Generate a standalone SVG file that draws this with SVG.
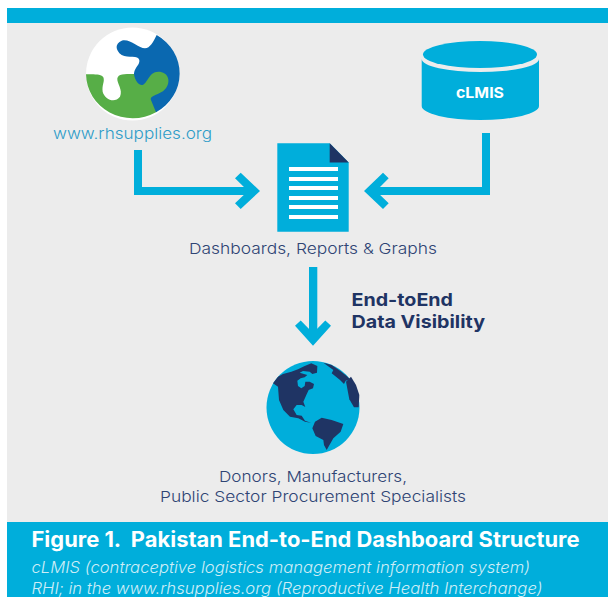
<svg xmlns="http://www.w3.org/2000/svg" width="608" height="597" viewBox="0 0 608 597">
<style>
.cy{fill:#00AEDB}
.nv{fill:#1F3464}
.t{font-family:"Inter","Lato","Liberation Sans",sans-serif;font-weight:300;font-size:15px;fill:#2F4474}
.b{font-family:"Inter","Lato","Liberation Sans",sans-serif;font-weight:700;font-size:18px;fill:#1F3464}
.i{font-family:"Inter","Lato","Liberation Sans",sans-serif;font-weight:300;font-style:italic;font-size:16px;fill:#CDEDF7}
</style>
<rect width="608" height="597" fill="#fff"/>
<rect x="7" y="23" width="601" height="499" fill="#ECECEC"/>
<rect class="cy" x="7" y="8" width="601" height="15"/>
<g id="connectors" class="cy">
<path d="M134,150H142V187H250V195H134Z"/>
<polygon points="235,178.300 240.700,172.700 260,191 240.700,209 235,203.300 248,191"/>
<path d="M490,133H482V187H374V195H490Z"/>
<polygon points="388.700,178.300 383,172.700 364,191 383,209 388.700,203.300 376,191"/>
<path d="M309,267H317.300V336H309Z"/>
<polygon points="295,325.700 300.700,320.500 313,333 325.300,320.500 331,325.700 313,345.700"/>
</g>
<g id="node-rhsupplies">
<circle cx="132.500" cy="74" r="46.500" fill="#fff"/>
<g transform="translate(60,0) scale(.33333)">
<path fill="#57AE47" d="M78,223C100,222 125,222 130,232C135,245 125,255 128,275C135,300 165,310 180,290C190,270 170,250 172,235C175,222 190,222 222,222L240,205L335,205L335,290L288,337A140,134 0 0 1 78,223Z"/>
<path fill="#0A68B0" d="M290,105A140,134 0 0 1 288,337L272,298C272,285 300,285 315,268C335,245 325,215 295,215C265,215 262,255 245,255C230,255 222,230 222,220C225,200 240,195 238,180C235,165 205,175 185,165C165,150 165,130 185,122C210,115 235,145 255,145C270,145 280,125 290,105Z"/>
</g>
<text class="t" x="53" y="139" textLength="159" lengthAdjust="spacingAndGlyphs" style="fill:#2E9CC8">www.rhsupplies.org</text>
</g>
<g id="node-clmis">
<ellipse class="cy" cx="480" cy="54.500" rx="57" ry="13.500"/>
<path class="cy" d="M421.700,59A58.500,13 0 0 0 539,59V106A58.500,14 0 0 1 421.700,106Z"/>
<text x="456" y="97.700" textLength="48" lengthAdjust="spacingAndGlyphs" style="font-family:Inter,'Liberation Sans',sans-serif;font-weight:700;font-size:15px;fill:#fff">cLMIS</text>
</g>
<g id="node-dashboards">
<path class="cy" d="M277.300,143.300H329.700L348.700,162.500V231.700H277.300Z"/>
<path class="nv" d="M329.700,143.300L348.700,162.500H329.700Z"/>
<path fill="#fff" d="M289,167h49v4h-49zM289,177h49v4h-49zM289,186h49v4h-49zM289,196h49v4h-49zM289,205h49v4h-49zM289,215h49v4h-49z"/>
<text class="t" x="189" y="254" textLength="248" lengthAdjust="spacingAndGlyphs">Dashboards, Reports &amp; Graphs</text>
</g>
<g id="label-visibility">
<text class="b" x="351.500" y="305.700" textLength="101.500" lengthAdjust="spacingAndGlyphs">End-toEnd</text>
<text class="b" x="351.500" y="328" textLength="133.500" lengthAdjust="spacingAndGlyphs">Data Visibility</text>
</g>
<g id="node-globe">
<circle class="cy" cx="313" cy="407.500" r="46.500"/>
<g class="nv" transform="translate(268,360) scale(.33333)">
<path d="M15,70L30,50L45,42L70,35L90,28L110,18L130,10L148,18L147,38L133,42L125,35L105,33L95,38L118,45L110,52L98,55L88,62L90,78L100,85L110,78L112,65L125,65L138,72L135,85L122,90L115,105L106,125L112,141L101,135L86,135L76,148L86,165L101,167L111,182L129,188L111,185L91,175L66,170L46,150L33,120L30,80Z"/>
</g>
<g class="nv" transform="translate(250,350) scale(.33333)">
<path d="M220,38L245,45L270,62L290,78L300,88L287,92L282,102L270,90L245,70L250,60Z"/>
<path d="M288,95L303,80L318,105L328,135L326,172L312,172L298,148Z"/>
</g>
<path class="nv" transform="translate(150,400) scale(.33333)" d="M487,85L495,65L515,53L545,60L580,72L572,95L550,115L530,150L522,135L520,120L497,108Z"/>
<text class="t" x="219" y="482" textLength="188" lengthAdjust="spacingAndGlyphs">Donors, Manufacturers,</text>
<text class="t" x="160" y="502" textLength="306" lengthAdjust="spacingAndGlyphs">Public Sector Procurement Specialists</text>
</g>
<g id="caption">
<rect class="cy" x="7" y="522" width="601" height="75"/>
<text xml:space="preserve" x="31.500" y="546.700" textLength="548" lengthAdjust="spacingAndGlyphs" style="font-family:Inter,'Liberation Sans',sans-serif;font-weight:700;font-size:21px;fill:#fff;white-space:pre">Figure 1.  Pakistan End-to-End Dashboard Structure</text>
<text class="i" x="31.500" y="572.700" textLength="498.500" lengthAdjust="spacingAndGlyphs">cLMIS (contraceptive logistics management information system)</text>
<text class="i" x="31.500" y="594" textLength="511" lengthAdjust="spacingAndGlyphs">RHI; in the www.rhsupplies.org (Reproductive Health Interchange)</text>
</g>
</svg>
